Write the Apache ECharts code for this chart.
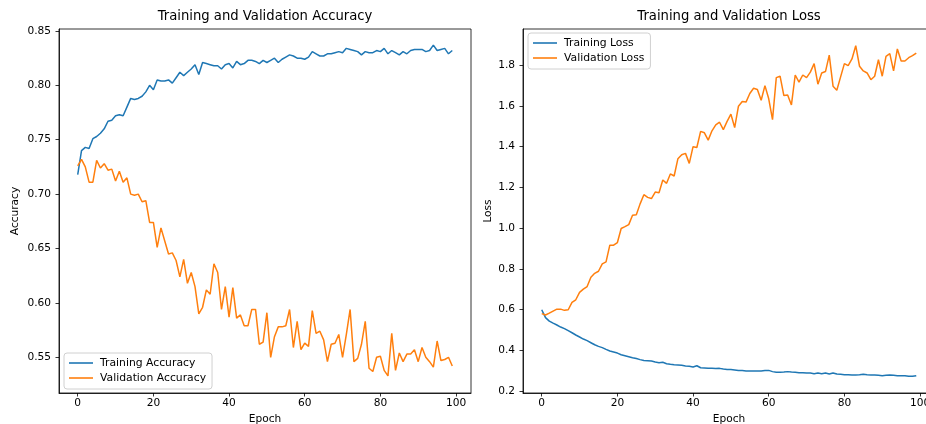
<!DOCTYPE html>
<html>
<head>
<meta charset="utf-8">
<script src="https://cdn.jsdelivr.net/npm/echarts@6/dist/echarts.min.js"></script>
<style>
html,body{margin:0;padding:0;overflow:hidden;background:#fff;width:926px;height:424px;}
#chart{width:940px;height:424px;}
</style>
</head>
<body>
<div id="chart"></div>
<script>
const epochs = [];
for (let i = 0; i < 100; i++) epochs.push(i);

const trainAcc = [
0.718,0.740,0.743,0.742,0.751,0.753,0.756,0.760,0.767,0.768,
0.772,0.773,0.772,0.780,0.788,0.787,0.788,0.790,0.794,0.800,
0.796,0.805,0.804,0.804,0.805,0.802,0.807,0.812,0.809,0.812,
0.815,0.819,0.810,0.821,0.820,0.819,0.818,0.818,0.815,0.819,
0.820,0.816,0.822,0.819,0.820,0.823,0.823,0.822,0.820,0.823,
0.821,0.823,0.825,0.821,0.824,0.826,0.828,0.827,0.825,0.825,
0.824,0.826,0.831,0.829,0.827,0.827,0.829,0.829,0.830,0.831,
0.830,0.834,0.833,0.832,0.831,0.828,0.831,0.830,0.830,0.832,
0.831,0.834,0.829,0.832,0.830,0.828,0.831,0.829,0.832,0.833,
0.833,0.833,0.831,0.832,0.837,0.832,0.833,0.834,0.829,0.832
];
const valAcc = [
0.726,0.732,0.725,0.711,0.711,0.731,0.724,0.728,0.722,0.723,
0.712,0.721,0.711,0.715,0.700,0.699,0.700,0.693,0.694,0.674,
0.674,0.651,0.669,0.657,0.645,0.646,0.639,0.624,0.640,0.618,
0.628,0.615,0.590,0.596,0.612,0.608,0.636,0.628,0.594,0.615,
0.587,0.614,0.586,0.589,0.579,0.579,0.594,0.594,0.562,0.564,
0.591,0.550,0.569,0.578,0.578,0.579,0.594,0.559,0.583,0.557,
0.563,0.560,0.593,0.572,0.574,0.566,0.546,0.562,0.563,0.571,
0.550,0.571,0.594,0.546,0.549,0.562,0.583,0.540,0.537,0.550,
0.551,0.538,0.533,0.572,0.538,0.554,0.546,0.553,0.553,0.557,
0.546,0.559,0.550,0.546,0.541,0.565,0.547,0.548,0.550,0.542
];
const trainLoss = [
0.599,0.560,0.543,0.533,0.524,0.514,0.506,0.496,0.486,0.475,
0.465,0.455,0.447,0.437,0.427,0.419,0.413,0.404,0.396,0.391,
0.386,0.378,0.373,0.368,0.363,0.359,0.354,0.350,0.349,0.347,
0.342,0.339,0.341,0.334,0.331,0.329,0.328,0.326,0.323,0.321,
0.318,0.324,0.314,0.313,0.311,0.311,0.310,0.311,0.308,0.306,
0.305,0.303,0.301,0.300,0.298,0.298,0.298,0.298,0.298,0.300,
0.301,0.295,0.292,0.292,0.293,0.295,0.293,0.292,0.290,0.290,
0.288,0.288,0.285,0.288,0.285,0.288,0.283,0.288,0.283,0.282,
0.280,0.280,0.279,0.279,0.280,0.282,0.280,0.279,0.279,0.277,
0.275,0.277,0.279,0.277,0.275,0.275,0.275,0.272,0.272,0.275
];
const valLoss = [
0.580,0.573,0.582,0.592,0.602,0.602,0.596,0.599,0.635,0.648,
0.684,0.700,0.713,0.759,0.778,0.788,0.824,0.834,0.916,0.916,
0.929,0.998,1.007,1.017,1.063,1.066,1.119,1.164,1.151,1.145,
1.177,1.174,1.236,1.220,1.266,1.256,1.341,1.360,1.367,1.318,
1.400,1.396,1.475,1.468,1.432,1.478,1.507,1.520,1.484,1.524,
1.560,1.494,1.599,1.622,1.619,1.661,1.687,1.681,1.628,1.700,
1.635,1.533,1.739,1.746,1.651,1.654,1.605,1.752,1.717,1.752,
1.739,1.766,1.808,1.707,1.762,1.769,1.850,1.697,1.677,1.743,
1.808,1.798,1.831,1.896,1.795,1.772,1.762,1.729,1.746,1.827,
1.746,1.844,1.857,1.772,1.880,1.821,1.821,1.837,1.847,1.860
];

const xTicks = [0, 20, 40, 60, 80, 100];
const accTicks = [0.55, 0.60, 0.65, 0.70, 0.75, 0.80, 0.85];
const lossTicks = [0.2, 0.4, 0.6, 0.8, 1.0, 1.2, 1.4, 1.6, 1.8];

const FONT = 'DejaVu Sans';
const BLUE = '#1f77b4', ORANGE = '#ff7f0e';

function pairs(vals) { return vals.map((v, i) => [epochs[i], v]); }

function xAxisCfg(gi) {
  return {
    type: 'value', gridIndex: gi, min: -4.95, max: 103.95,
    axisLine: { show: true, onZero: false, lineStyle: { color: '#000', width: 0.8 } },
    axisTick: { show: true, length: 3.5, customValues: xTicks, lineStyle: { color: '#000', width: 0.8 } },
    axisLabel: { customValues: xTicks, fontSize: 10.6, color: '#000', margin: 5, fontFamily: FONT },
    splitLine: { show: false },
    name: 'Epoch', nameLocation: 'middle', nameGap: 18,
    nameTextStyle: { fontSize: 10.6, color: '#000', fontFamily: FONT }
  };
}
function yAxisCfg(gi, min, max, ticks, dec, name, gap) {
  return {
    type: 'value', gridIndex: gi, min: min, max: max,
    axisLine: { show: true, onZero: false, lineStyle: { color: '#000', width: 0.8 } },
    axisTick: { show: true, length: 3.5, customValues: ticks, lineStyle: { color: '#000', width: 0.8 } },
    axisLabel: { customValues: ticks, fontSize: 10.6, color: '#000', margin: 8, fontFamily: FONT,
      formatter: v => Number(v).toFixed(dec) },
    splitLine: { show: false },
    name: name, nameLocation: 'middle', nameGap: gap, nameRotate: 90,
    nameTextStyle: { fontSize: 10.6, color: '#000', fontFamily: FONT }
  };
}
function legendCfg(names, left, top) {
  return {
    data: names, orient: 'vertical', left: left, top: top,
    icon: 'rect', itemWidth: 24, itemHeight: 1.6, itemGap: 3,
    padding: [4, 6, 5, 5],
    backgroundColor: 'rgba(255,255,255,0.8)', borderColor: '#d0d0d0', borderWidth: 1, borderRadius: 3,
    textStyle: { fontSize: 10.8, color: '#000', fontFamily: FONT, lineHeight: 12, padding: [0, 0, 0, 2] },
    selectedMode: false
  };
}
function lineSeries(name, vals, color, xi, yi) {
  return {
    name: name, type: 'line', xAxisIndex: xi, yAxisIndex: yi,
    data: pairs(vals), showSymbol: false, symbol: 'none',
    lineStyle: { color: color, width: 1.5 }, itemStyle: { color: color },
    clip: true, z: 3
  };
}

const chart = echarts.init(document.getElementById('chart'), null, { renderer: 'canvas' });
chart.setOption({
  animation: false,
  backgroundColor: '#fff',
  textStyle: { fontFamily: FONT },
  title: [
    { text: 'Training and Validation Accuracy', left: 265, top: 10, textAlign: 'center', padding: 0,
      textStyle: { fontSize: 13.2, fontWeight: 'normal', color: '#000', fontFamily: FONT } },
    { text: 'Training and Validation Loss', left: 729, top: 10, textAlign: 'center', padding: 0,
      textStyle: { fontSize: 13.2, fontWeight: 'normal', color: '#000', fontFamily: FONT } }
  ],
  grid: [
    { left: 59, top: 29, width: 412, height: 364, show: true, borderColor: '#000', borderWidth: 0.8,
      backgroundColor: 'transparent', outerBoundsMode: 'none', containLabel: false },
    { left: 523, top: 29, width: 412, height: 364, show: true, borderColor: '#000', borderWidth: 0.8,
      backgroundColor: 'transparent', outerBoundsMode: 'none', containLabel: false }
  ],
  xAxis: [xAxisCfg(0), xAxisCfg(1)],
  yAxis: [
    yAxisCfg(0, 0.5172, 0.8518, accTicks, 2, 'Accuracy', 38),
    yAxisCfg(1, 0.190, 1.978, lossTicks, 1, 'Loss', 29)
  ],
  legend: [
    legendCfg(['Training Accuracy', 'Validation Accuracy'], 64, 353),
    legendCfg(['Training Loss', 'Validation Loss'], 528, 33)
  ],
  series: [
    lineSeries('Training Accuracy', trainAcc, BLUE, 0, 0),
    lineSeries('Validation Accuracy', valAcc, ORANGE, 0, 0),
    lineSeries('Training Loss', trainLoss, BLUE, 1, 1),
    lineSeries('Validation Loss', valLoss, ORANGE, 1, 1)
  ]
});
</script>
</body>
</html>
